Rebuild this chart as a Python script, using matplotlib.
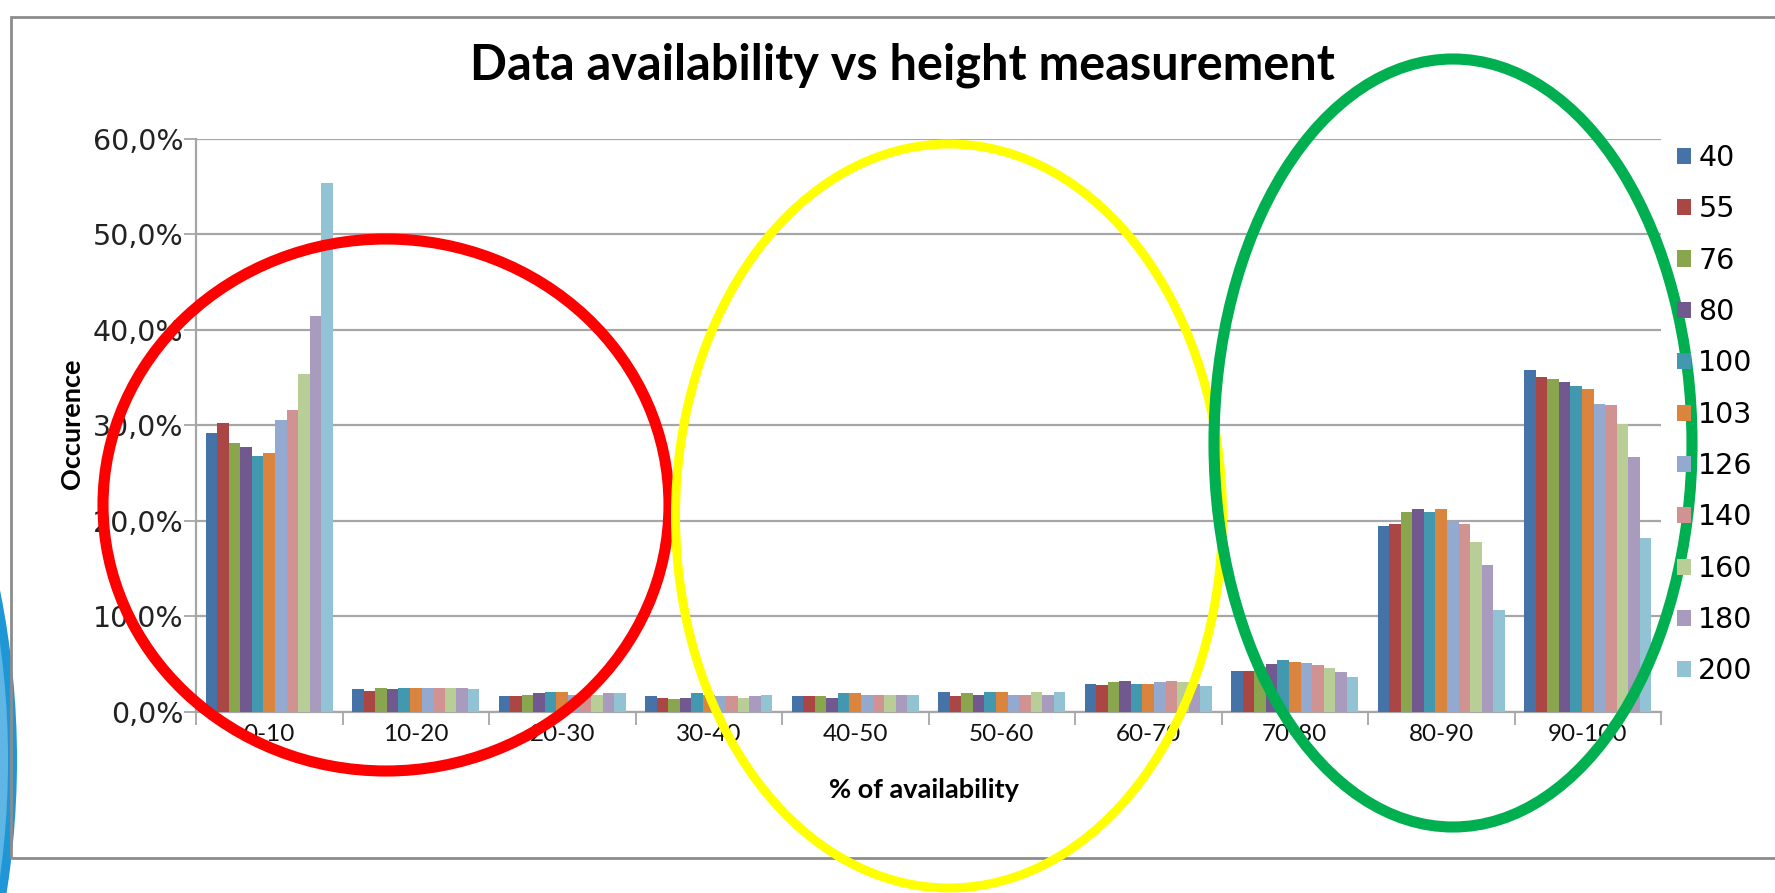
import matplotlib
matplotlib.use("Agg")
import matplotlib.pyplot as plt
from matplotlib.patches import Ellipse, Rectangle
from matplotlib.ticker import FuncFormatter
import numpy as np

# availability bins and measurement heights
bins = ["0-10", "10-20", "20-30", "30-40", "40-50", "50-60", "60-70", "70-80", "80-90", "90-100"]
heights = ["40", "55", "76", "80", "100", "103", "126", "140", "160", "180", "200"]

# occurrence (%) per height, one value per bin
h40 = [29.2, 2.33, 1.64, 1.64, 1.64, 2.06, 2.92, 4.24, 19.4, 35.8]
h55 = [30.2, 2.20, 1.64, 1.46, 1.64, 1.64, 2.78, 4.24, 19.65, 35.1]
h76 = [28.1, 2.50, 1.78, 1.32, 1.64, 1.92, 3.06, 4.65, 20.9, 34.8]
h80 = [27.7, 2.33, 1.92, 1.46, 1.46, 1.78, 3.23, 4.93, 21.2, 34.5]
h100 = [26.8, 2.50, 2.06, 1.92, 1.92, 2.06, 2.92, 5.42, 20.9, 34.1]
h103 = [27.1, 2.47, 2.06, 1.78, 1.92, 2.06, 2.92, 5.24, 21.2, 33.8]
h126 = [30.6, 2.47, 1.78, 1.64, 1.78, 1.78, 3.06, 5.05, 19.9, 32.2]
h140 = [31.6, 2.47, 1.92, 1.64, 1.78, 1.78, 3.23, 4.90, 19.65, 32.1]
h160 = [35.4, 2.47, 1.78, 1.46, 1.78, 2.06, 3.06, 4.60, 17.8, 30.1]
h180 = [41.5, 2.47, 1.92, 1.64, 1.78, 1.78, 2.92, 4.10, 15.4, 26.7]
h200 = [55.4, 2.33, 1.92, 1.78, 1.78, 2.06, 2.64, 3.60, 10.6, 18.2]
series = [h40, h55, h76, h80, h100, h103, h126, h140, h160, h180, h200]

colors = ["#4572A7", "#AA4643", "#89A54E", "#71588F", "#4198AF", "#DB843D",
          "#93A9CF", "#D19392", "#B9CD96", "#A99BBD", "#92C3D5"]

W, H = 1775, 893
fig = plt.figure(figsize=(W / 100, H / 100), dpi=100)
ax = fig.add_axes([196 / W, 1 - 711.5 / H, (1661 - 196) / W, (711.5 - 139) / H])

x = np.arange(len(bins))
group = 0.87
width = group / len(heights)
for k, (vals, c, lab) in enumerate(zip(series, colors, heights)):
    ax.bar(x - group / 2 + width * (k + 0.5), np.array(vals) / 100, width,
           color=c, label=lab, zorder=3, edgecolor="none")

ax.set_xlim(-0.5, len(bins) - 0.5)
ax.set_ylim(0, 0.6)
ax.set_yticks(np.arange(0, 0.61, 0.1))
ax.yaxis.set_major_formatter(FuncFormatter(lambda v, p: f"{v * 100:.1f}%".replace(".", ",")))
ax.grid(axis="y", color="#a6a6a6", linewidth=1.6, zorder=0)
ax.set_axisbelow(True)

ax.set_xticks(x)
ax.set_xticklabels(bins, fontsize=17.5, family=["Lato", "DejaVu Sans"], color="#111111")
ax.set_xticks(np.arange(-0.5, len(bins)), minor=True)
ax.tick_params(axis="x", which="major", length=0, pad=9)
ax.tick_params(axis="x", which="minor", length=9, width=1.3, color="#a6a6a6")
ax.tick_params(axis="y", length=9, width=1.3, color="#a6a6a6", labelsize=20.5,
               labelcolor="#222222", pad=0)

for s in ["top", "right"]:
    ax.spines[s].set_visible(False)
for s in ["left", "bottom"]:
    ax.spines[s].set_color("#a6a6a6")
    ax.spines[s].set_linewidth(1.6)

fig.text(902 / W, 1 - 65 / H, "Data availability vs height measurement", ha="center", va="center",
         fontsize=35, fontweight="bold", family=["Lato", "DejaVu Sans"])
fig.text(924 / W, 1 - 790 / H, "% of availability", ha="center", va="center",
         fontsize=19.5, fontweight="bold", family=["Lato", "DejaVu Sans"])
fig.text(72 / W, 1 - 424 / H, "Occurence", ha="center", va="center", rotation=90,
         fontsize=19.5, fontweight="bold", family=["Lato", "DejaVu Sans"])

fig.legend(loc="upper left", bbox_to_anchor=(1677 / W, 1 - 144 / H), frameon=False,
           fontsize=20.5, handlelength=0.5, handleheight=0.5, handletextpad=0.25,
           labelspacing=0.82, borderpad=0, borderaxespad=0)

# outer chart frame
fig.add_artist(Rectangle((11 / W, 1 - 858 / H), 1800 / W, (858 - 17) / H, transform=fig.transFigure,
                         fill=False, edgecolor="#8c8c8c", linewidth=2))

# blue slide decoration at left edge
fig.add_artist(Ellipse((-841 / W, 1 - 760 / H), 1716 / W, 1716 / H, transform=fig.transFigure,
                       facecolor="#1f97d6", edgecolor="none", zorder=0.5))
fig.add_artist(Ellipse((-850 / W, 1 - 760 / H), 1716 / W, 1716 / H, transform=fig.transFigure,
                       facecolor="#5fb6e4", edgecolor="none", zorder=0.6))

# highlighting ellipses
for cx, cy, w, h, col, lw in [(386, 505, 566, 532, "#ff0000", 8),
                              (949, 516, 547, 744, "#ffff00", 6.5),
                              (1453, 443, 478, 768, "#00b050", 8)]:
    fig.add_artist(Ellipse((cx / W, 1 - cy / H), w / W, h / H, transform=fig.transFigure,
                           fill=False, edgecolor=col, linewidth=lw, zorder=5))

fig.savefig("out.png", dpi=100)
